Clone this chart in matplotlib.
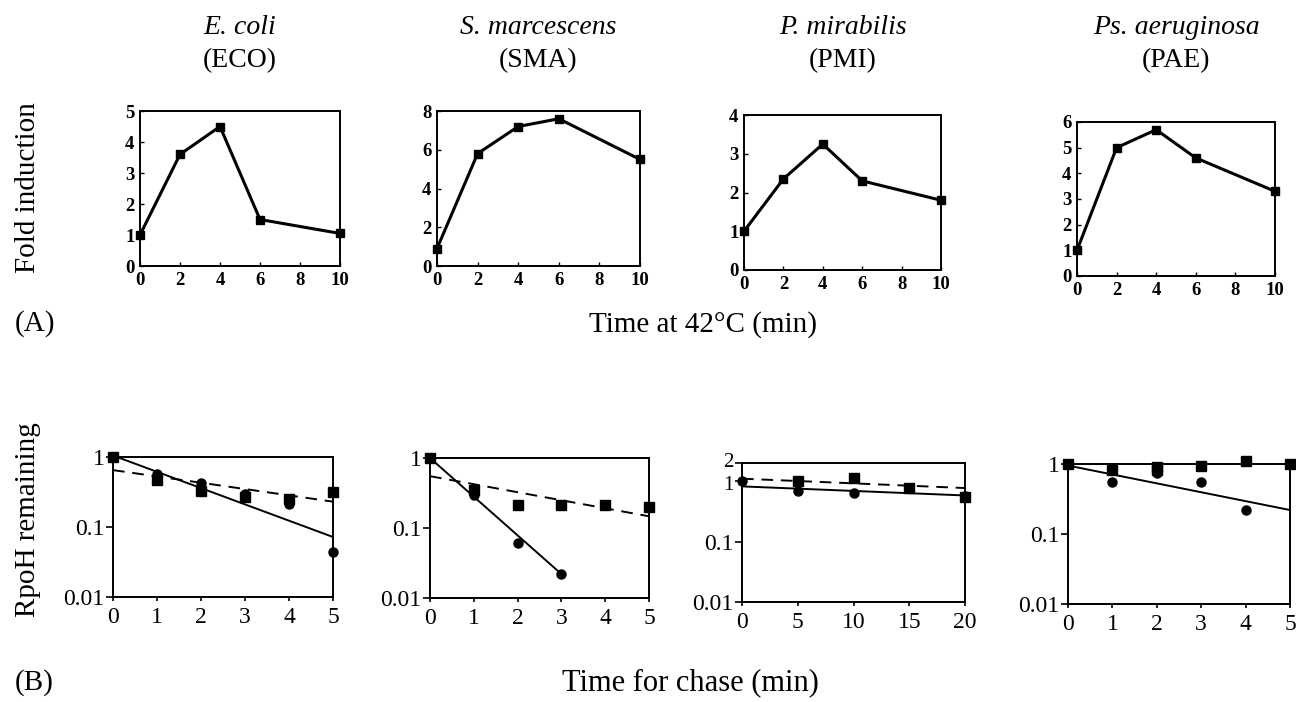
import matplotlib
matplotlib.use("Agg")
import matplotlib.pyplot as plt
from matplotlib.transforms import ScaledTranslation

plt.rcParams['font.family'] = ['Liberation Serif', 'DejaVu Serif']

W, H = 1296, 702

# species labels
species = ["E. coli", "S. marcescens", "P. mirabilis", "Ps. aeruginosa"]
codes = ["(ECO)", "(SMA)", "(PMI)", "(PAE)"]

# (A) fold induction at 42C
heat_time = [0, 2, 4, 6, 10]
fold_eco = [1.0, 3.6, 4.5, 1.5, 1.05]
fold_sma = [0.9, 5.8, 7.2, 7.6, 5.5]
fold_pmi = [1.0, 2.35, 3.25, 2.3, 1.8]
fold_pae = [1.0, 5.0, 5.7, 4.6, 3.3]
fold_ymax = [5, 8, 4, 6]
fold_yticks = [[0, 1, 2, 3, 4, 5], [0, 2, 4, 6, 8], [0, 1, 2, 3, 4], [0, 1, 2, 3, 4, 5, 6]]

# (B) RpoH remaining during chase: circles (solid fit) and squares (dashed fit)
eco_t_c = [0, 1, 2, 3, 4, 5]
eco_c = [1.0, 0.57, 0.42, 0.30, 0.21, 0.044]
eco_t_s = [0, 1, 2, 3, 4, 5]
eco_s = [1.0, 0.47, 0.33, 0.27, 0.25, 0.32]
eco_fit_c = [1.05, 0.072]
eco_fit_s = [0.65, 0.23]

sma_t_c = [0, 1, 2, 3]
sma_c = [1.0, 0.30, 0.062, 0.022]
sma_t_s = [0, 1, 2, 3, 4, 5]
sma_s = [1.0, 0.35, 0.215, 0.21, 0.215, 0.197]
sma_fit_c = [1.0, 0.022]
sma_fit_s = [0.55, 0.147]

pmi_t_c = [0, 5, 10, 20]
pmi_c = [1.0, 0.70, 0.63, 0.57]
pmi_t_s = [5, 10, 15, 20]
pmi_s = [1.0, 1.13, 0.78, 0.55]
pmi_fit_c = [0.82, 0.58]
pmi_fit_s = [1.1, 0.77]

pae_t_c = [0, 1, 2, 3, 4]
pae_c = [1.0, 0.56, 0.74, 0.56, 0.22]
pae_t_s = [0, 1, 2, 2, 3, 4, 5]
pae_s = [1.0, 0.83, 0.92, 0.82, 0.93, 1.12, 1.0]
pae_fit_c = [0.95, 0.22]
pae_fit_s = [1.0, 1.0]

chase_xmax = [5, 5, 20, 5]
chase_xticks = [[0, 1, 2, 3, 4, 5], [0, 1, 2, 3, 4, 5], [0, 5, 10, 15, 20], [0, 1, 2, 3, 4, 5]]
chase_ymax = [1.0, 1.0, 2.0, 1.0]

fig = plt.figure(figsize=(W / 100, H / 100), dpi=100)


def px_axes(l, t, r, b):
    return fig.add_axes([l / W, 1 - b / H, (r - l) / W, (b - t) / H])


def style(ax):
    for s in ax.spines.values():
        s.set_linewidth(1.4)


top_boxes = [(140, 111, 340, 266), (437, 111, 640, 266), (744, 115, 941, 270), (1077, 122, 1275, 276)]
folds = [fold_eco, fold_sma, fold_pmi, fold_pae]

for i, box in enumerate(top_boxes):
    ax = px_axes(*box)
    style(ax)
    ax.tick_params(direction='in', length=3, width=1)
    ax.plot(heat_time, folds[i], color='black', lw=2.2, marker='s', ms=5.5, clip_on=False)
    ax.set_xlim(0, 10)
    ax.set_ylim(0, fold_ymax[i])
    ax.set_xticks([0, 2, 4, 6, 8, 10])
    ax.set_yticks(fold_yticks[i])
    ax.tick_params(labelsize=13.5, pad=4)
    for lab in ax.get_xticklabels() + ax.get_yticklabels():
        lab.set_fontweight('bold')
    cx = (box[0] + box[2]) / 2 / W
    fig.text(cx, 1 - 27 / H, species[i], ha='center', va='center', fontsize=20, style='italic')
    fig.text(cx, 1 - 61 / H, codes[i], ha='center', va='center', fontsize=20)

bot_boxes = [(113, 457, 333, 597), (430, 458, 649, 598), (742, 463, 965, 602), (1068, 464, 1290, 604)]
chase = [
    (eco_t_c, eco_c, eco_t_s, eco_s, eco_fit_c, eco_fit_s, [0, 5]),
    (sma_t_c, sma_c, sma_t_s, sma_s, sma_fit_c, sma_fit_s, [0, 3]),
    (pmi_t_c, pmi_c, pmi_t_s, pmi_s, pmi_fit_c, pmi_fit_s, [0, 20]),
    (pae_t_c, pae_c, pae_t_s, pae_s, pae_fit_c, pae_fit_s, [0, 5]),
]

for i, box in enumerate(bot_boxes):
    tc, c, ts, s, fc, fs, frange = chase[i]
    ax = px_axes(*box)
    style(ax)
    ax.set_yscale('log')
    ax.plot(frange, fc, color='black', lw=1.4)
    ax.plot([0, chase_xmax[i]], fs, color='black', lw=1.4, ls=(0, (6, 4)))
    ax.plot(ts, s, ls='none', marker='s', ms=6.5, color='black', clip_on=False)
    ax.plot(tc, c, ls='none', marker='o', ms=6.5, color='black', clip_on=False)
    ax.set_xlim(0, chase_xmax[i])
    ax.set_ylim(0.01, chase_ymax[i])
    ax.set_xticks(chase_xticks[i])
    ax.minorticks_off()
    ax.tick_params(axis='y', direction='out', length=5, width=1.2, labelsize=17, pad=1)
    ax.tick_params(axis='x', direction='out', length=3, width=1.2, labelsize=17, pad=4)
    if chase_ymax[i] > 1:
        ax.set_yticks([0.01, 0.1, 1, 2])
        ax.set_yticklabels(["0.01", "0.1", "1", "2"])
        # the "2" sits tight above the "1", nudge them apart a little
        labs = ax.get_yticklabels()
        labs[3].set_fontsize(15)
        labs[3].set_transform(labs[3].get_transform() + ScaledTranslation(0, 3 / 100, fig.dpi_scale_trans))
        labs[2].set_fontsize(15)
        labs[2].set_transform(labs[2].get_transform() + ScaledTranslation(0, -2 / 100, fig.dpi_scale_trans))
    else:
        ax.set_yticks([0.01, 0.1, 1])
        ax.set_yticklabels(["0.01", "0.1", "1"])

fig.text(28 / W, 1 - 188 / H, "Fold induction", rotation=90, ha='center', va='center', fontsize=21)
fig.text(28 / W, 1 - 520 / H, "RpoH remaining", rotation=90, ha='center', va='center', fontsize=21)
fig.text(15 / W, 1 - 324 / H, "(A)", ha='left', va='center', fontsize=21)
fig.text(15 / W, 1 - 683 / H, "(B)", ha='left', va='center', fontsize=21)
fig.text(703 / W, 1 - 325 / H, "Time at 42°C (min)", ha='center', va='center', fontsize=21)
fig.text(690 / W, 1 - 683 / H, "Time for chase (min)", ha='center', va='center', fontsize=22)

fig.savefig("out.png", dpi=100)
